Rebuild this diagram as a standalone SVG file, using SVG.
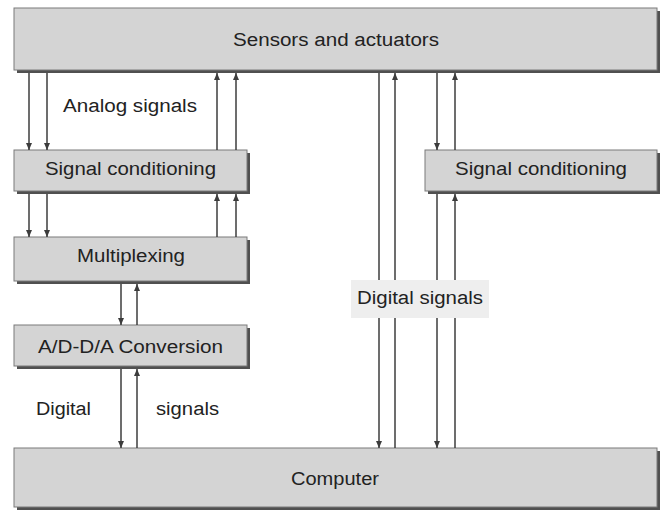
<svg xmlns="http://www.w3.org/2000/svg" width="664" height="517" viewBox="0 0 664 517">
<style>
.sh{fill:#505050}
.bx{fill:#d4d4d4;stroke:#7a7a7a;stroke-width:1}
.t{font-family:"Liberation Sans",Arial,sans-serif;font-size:18px;fill:#222}
.c line{stroke:#3c3c3c;stroke-width:1.5;marker-end:url(#ah)}
</style>
<defs>
<marker id="ah" markerUnits="userSpaceOnUse" markerWidth="8" markerHeight="8" refX="7" refY="4" orient="auto">
<path d="M0,1 L7,4 L0,7 z" fill="#3c3c3c"/>
</marker>
</defs>
<rect width="664" height="517" fill="#fff"/>
<g id="sensors">
<rect class="sh" x="17" y="11" width="643" height="62"/>
<rect class="bx" x="14" y="8" width="643" height="62"/>
<text class="t" x="233" y="46" textLength="206" lengthAdjust="spacingAndGlyphs">Sensors and actuators</text>
</g>
<g id="sc-left">
<rect class="sh" x="17" y="153" width="233" height="41"/>
<rect class="bx" x="14" y="150" width="233" height="41"/>
<text class="t" x="45" y="175" textLength="171" lengthAdjust="spacingAndGlyphs">Signal conditioning</text>
</g>
<g id="sc-right">
<rect class="sh" x="428" y="153" width="232" height="41"/>
<rect class="bx" x="425" y="150" width="232" height="41"/>
<text class="t" x="455" y="175" textLength="172" lengthAdjust="spacingAndGlyphs">Signal conditioning</text>
</g>
<g id="mux">
<rect class="sh" x="17" y="240" width="233" height="44"/>
<rect class="bx" x="14" y="237" width="233" height="44"/>
<text class="t" x="77" y="262" textLength="108" lengthAdjust="spacingAndGlyphs">Multiplexing</text>
</g>
<g id="adda">
<rect class="sh" x="17" y="328" width="233" height="41"/>
<rect class="bx" x="14" y="325" width="233" height="41"/>
<text class="t" x="38" y="353" textLength="185" lengthAdjust="spacingAndGlyphs">A/D-D/A Conversion</text>
</g>
<g id="computer">
<rect class="sh" x="17" y="451" width="643" height="59"/>
<rect class="bx" x="14" y="448" width="643" height="59"/>
<text class="t" x="291" y="485" textLength="88" lengthAdjust="spacingAndGlyphs">Computer</text>
</g>
<g id="connectors" class="c">
<line x1="29" y1="73" x2="29" y2="150"/>
<line x1="47" y1="73" x2="47" y2="150"/>
<line x1="217" y1="150" x2="217" y2="73"/>
<line x1="236" y1="150" x2="236" y2="73"/>
<line x1="29" y1="194" x2="29" y2="237"/>
<line x1="47" y1="194" x2="47" y2="237"/>
<line x1="217" y1="237" x2="217" y2="194"/>
<line x1="236" y1="237" x2="236" y2="194"/>
<line x1="121" y1="284" x2="121" y2="325"/>
<line x1="137" y1="325" x2="137" y2="284"/>
<line x1="121" y1="369" x2="121" y2="448"/>
<line x1="137" y1="448" x2="137" y2="369"/>
<line x1="379" y1="73" x2="379" y2="448"/>
<line x1="395" y1="448" x2="395" y2="73"/>
<line x1="437" y1="73" x2="437" y2="150"/>
<line x1="455" y1="150" x2="455" y2="73"/>
<line x1="437" y1="194" x2="437" y2="448"/>
<line x1="455" y1="448" x2="455" y2="194"/>
</g>
<g id="labels">
<text class="t" x="63" y="112" textLength="134" lengthAdjust="spacingAndGlyphs">Analog signals</text>
<rect x="351" y="280" width="138" height="38" fill="#eeeeee"/>
<text class="t" x="357" y="304" textLength="126" lengthAdjust="spacingAndGlyphs">Digital signals</text>
<text class="t" x="36" y="415" textLength="55" lengthAdjust="spacingAndGlyphs">Digital</text>
<text class="t" x="156" y="415" textLength="63" lengthAdjust="spacingAndGlyphs">signals</text>
</g>
</svg>
